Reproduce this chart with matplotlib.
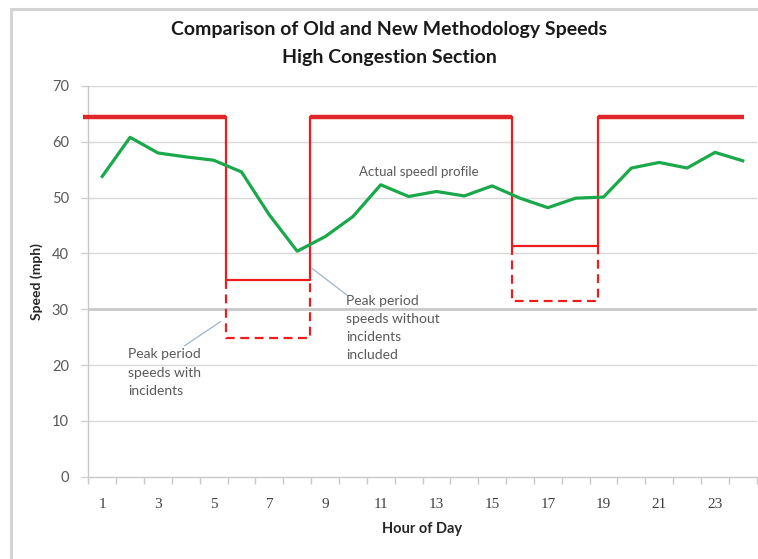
import numpy as np
import matplotlib
matplotlib.use("Agg")
import matplotlib.pyplot as plt
from matplotlib.patches import Rectangle

plt.rcParams['font.family'] = ['Lato', 'DejaVu Sans']

# actual speed profile
hours = list(range(1, 25))
actual_speed = [53.8, 60.8, 58.0, 57.3, 56.7, 54.6, 46.9, 40.4, 43.0, 46.6, 52.3, 50.2,
                51.1, 50.3, 52.1, 49.9, 48.2, 49.9, 50.1, 55.3, 56.3, 55.3, 58.1, 56.6]

# old methodology: free-flow level, and two peak periods
offpeak_speed = 64.5
line_start, line_end = 0.31, 24.04
am_period = (5.45, 8.45)
pm_period = (15.72, 18.8)
am_no_incidents, am_with_incidents = 35.3, 24.8
pm_no_incidents, pm_with_incidents = 41.4, 31.5

xtick_labels = [str(h) for h in range(1, 25, 2)]
yticks = list(range(0, 71, 10))

red = '#f01c1c'
red_top = '#e0262b'
green = '#1aa84b'
note_color = '#595959'
arrow_color = '#9fb4cc'

fig = plt.figure(figsize=(7.58, 5.59), dpi=100)
ax = fig.add_axes([0.1165, 0.1472, 0.8818, 0.699])

# chart frame (Excel chart area border)
fig.patches.append(Rectangle((11 / 758, -0.1), 1.2, 1 - 9 / 559 + 0.1, transform=fig.transFigure,
                             fill=False, edgecolor='#d4d4d4', lw=2.2, clip_on=False))

# gridlines
for y in yticks[1:]:
    if y == 30:
        ax.axhline(y, color='#c8c8c8', lw=2.0, zorder=0)
    else:
        ax.axhline(y, color='#d9d9d9', lw=1.0, zorder=0)

# old methodology, top segments
top_segments = [(line_start, am_period[0]), (am_period[1], pm_period[0]), (pm_period[1], line_end)]
for x0, x1 in top_segments:
    ax.plot([x0, x1], [offpeak_speed] * 2, color=red_top, lw=3.2, solid_capstyle='butt',
            zorder=3, clip_on=False)

# peak period boxes
for (x0, x1), lo, low in [(am_period, am_no_incidents, am_with_incidents),
                          (pm_period, pm_no_incidents, pm_with_incidents)]:
    ax.plot([x0, x0, x1, x1], [offpeak_speed, lo, lo, offpeak_speed], color=red, lw=1.6, zorder=3)
    ax.plot([x0, x0, x1, x1], [lo, low, low, lo], color=red, lw=1.6, ls=(0, (4, 2.5)), zorder=3)

# actual speed
ax.plot(hours, actual_speed, color=green, lw=2.3, zorder=4)

ax.text(10.22, 54.66, 'Actual speedl profile', fontsize=9.5, color=note_color, va='center', ha='left')
ax.annotate('Peak period\nspeeds with\nincidents', xy=(5.25, 27.8), xytext=(1.93, 23.0),
            fontsize=10, color=note_color, va='top', ha='left', linespacing=1.65,
            arrowprops=dict(arrowstyle='-', color=arrow_color, lw=0.9, shrinkA=0, shrinkB=0,
                            patchA=None, relpos=(0.77, 1.05)))
ax.annotate('Peak period\nspeeds without\nincidents\nincluded', xy=(8.54, 37.3), xytext=(9.77, 32.6),
            fontsize=10, color=note_color, va='top', ha='left', linespacing=1.6,
            arrowprops=dict(arrowstyle='-', color=arrow_color, lw=0.9, shrinkA=0, shrinkB=0,
                            patchA=None, relpos=(0.0, 1.0)))

ax.set_xlim(0.5, 24.5)
ax.set_ylim(0, 70)

ax.set_yticks(yticks)
ax.set_yticklabels([str(y) for y in yticks], fontsize=10.5, color='#595959')
ax.tick_params(axis='y', length=5, width=1, color='#d0d0d0', pad=9)

ax.set_xticks(range(1, 25, 2))
ax.set_xticklabels(xtick_labels, fontsize=11, color='#404040', family=['Liberation Serif', 'DejaVu Serif'])
ax.set_xticks(np.arange(0.5, 24.6, 1), minor=True)
ax.tick_params(axis='x', which='major', length=0, pad=15)
ax.tick_params(axis='x', which='minor', length=5, width=1, color='#c8c8c8')

for side in ['top', 'right']:
    ax.spines[side].set_visible(False)
for side in ['left', 'bottom']:
    ax.spines[side].set_color('#c8c8c8')
    ax.spines[side].set_linewidth(1.0)

ax.set_ylabel('Speed (mph)', fontsize=10, fontweight='bold', color='#262626', labelpad=6)
ax.set_xlabel('Hour of Day', fontsize=10.5, fontweight='bold', color='#262626', labelpad=8)

fig.text(389 / 758, 1 - 30 / 559, 'Comparison of Old and New Methodology Speeds', fontsize=14,
         fontweight='bold', color='#1a1a1a', ha='center', va='center')
fig.text(389 / 758, 1 - 57 / 559, 'High Congestion Section', fontsize=14,
         fontweight='bold', color='#1a1a1a', ha='center', va='center')

fig.savefig('out.png', dpi=100)
